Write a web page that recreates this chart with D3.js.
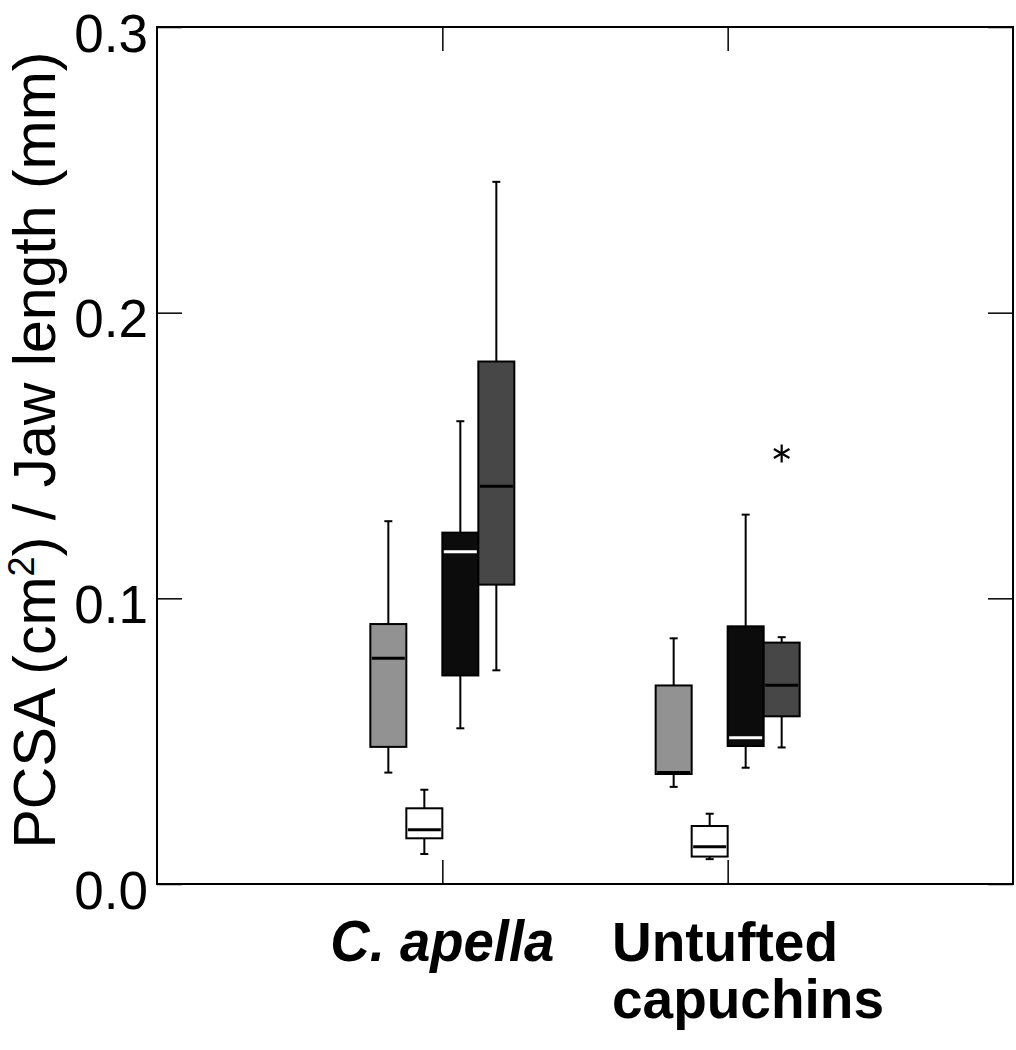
<!DOCTYPE html>
<html>
<head>
<meta charset="utf-8">
<script src="https://cdn.jsdelivr.net/npm/d3@7"></script>
<style>
  body { margin: 0; background: #fff; }
  svg { font-family: "Liberation Sans", Arial, sans-serif; }
</style>
</head>
<body>
<div id="chart"></div>
<script>
// groups on the x axis
var groups = ["C. apella", "Untufted capuchins"];
var series = ["grey", "white", "black", "dark"];
var fills = ["#929292", "#ffffff", "#0c0c0c", "#474747"];
var medianColors = ["#000", "#000", "#fff", "#000"];

// [whisker low, q1, median, q3, whisker high] per group
var greyStats  = [[0.039, 0.048, 0.079, 0.091, 0.127], [0.034, 0.0385, 0.039, 0.0695, 0.086]];
var whiteStats = [[0.0105, 0.016, 0.019, 0.0265, 0.033], [0.0087, 0.0096, 0.013, 0.0203, 0.0246]];
var blackStats = [[0.0545, 0.073, 0.1163, 0.123, 0.162], [0.0407, 0.0483, 0.0512, 0.0902, 0.1293]];
var darkStats  = [[0.0748, 0.1048, 0.1392, 0.1829, 0.2458], [0.0478, 0.0587, 0.0696, 0.0845, 0.0864]];
var allStats = [greyStats, whiteStats, blackStats, darkStats];

// outliers: [group index, series index, value]
var outliers = [[1, 3, 0.1507]];
var yTicks = [0, 0.1, 0.2, 0.3];

(function() {
var W = 1016, H = 1050;
var mLeft = 157, mRight = 1013, mTop = 27, mBottom = 884;

var svg = d3.select("#chart").append("svg").attr("width", W).attr("height", H);

var x = d3.scaleLinear().domain([0, 3]).range([mLeft, mRight]);
var xs = d3.scaleBand().domain(series).range([-72, 72]).padding(0);
var y = d3.scaleLinear().domain([0, 0.3]).range([mBottom, mTop]);
var bw = xs.bandwidth();

// frame
svg.append("rect")
  .attr("x", mLeft).attr("y", mTop)
  .attr("width", mRight - mLeft).attr("height", mBottom - mTop)
  .attr("fill", "none").attr("stroke", "#000").attr("stroke-width", 2);

// left axis, ticks pointing inward
var yAxis = svg.append("g")
  .attr("transform", "translate(" + mLeft + ",0)")
  .call(d3.axisLeft(y).tickValues(yTicks).tickSize(-25).tickPadding(9).tickFormat(d3.format(".1f")));
yAxis.select(".domain").remove();
yAxis.selectAll("line").attr("stroke-width", 1.5);
yAxis.selectAll("text")
  .attr("font-size", 53).attr("dy", 24)
  .attr("font-family", "Liberation Sans, Arial, sans-serif").attr("fill", "#000");

// right axis ticks
var yAxisR = svg.append("g")
  .attr("transform", "translate(" + mRight + ",0)")
  .call(d3.axisRight(y).tickValues(yTicks).tickSize(-25).tickFormat(""));
yAxisR.select(".domain").remove();
yAxisR.selectAll("line").attr("stroke-width", 1.5);

// top and bottom ticks at group positions
var xb = svg.append("g").attr("transform", "translate(0," + mBottom + ")")
  .call(d3.axisBottom(x).tickValues([1, 2]).tickSize(-24).tickFormat(""));
xb.select(".domain").remove();
xb.selectAll("line").attr("stroke-width", 1.5);
var xt = svg.append("g").attr("transform", "translate(0," + mTop + ")")
  .call(d3.axisTop(x).tickValues([1, 2]).tickSize(-24).tickFormat(""));
xt.select(".domain").remove();
xt.selectAll("line").attr("stroke-width", 1.5);

// boxes
var boxData = [];
groups.forEach(function(g, gi) {
  series.forEach(function(s, si) {
    var st = allStats[si][gi];
    boxData.push({ g: gi, s: si, lo: st[0], q1: st[1], med: st[2], q3: st[3], hi: st[4] });
  });
});

var boxes = svg.append("g").selectAll("g").data(boxData).join("g")
  .attr("transform", function(d) { return "translate(" + (x(d.g + 1) + xs(series[d.s])) + ",0)"; });

// whiskers
boxes.append("line")
  .attr("x1", bw / 2).attr("x2", bw / 2)
  .attr("y1", function(d) { return y(d.hi); }).attr("y2", function(d) { return y(d.q3); })
  .attr("stroke", "#000").attr("stroke-width", 2);
boxes.append("line")
  .attr("x1", bw / 2).attr("x2", bw / 2)
  .attr("y1", function(d) { return y(d.q1); }).attr("y2", function(d) { return y(d.lo); })
  .attr("stroke", "#000").attr("stroke-width", 2);
boxes.append("line")
  .attr("x1", bw / 2 - 4).attr("x2", bw / 2 + 4)
  .attr("y1", function(d) { return y(d.hi); }).attr("y2", function(d) { return y(d.hi); })
  .attr("stroke", "#000").attr("stroke-width", 2);
boxes.append("line")
  .attr("x1", bw / 2 - 4).attr("x2", bw / 2 + 4)
  .attr("y1", function(d) { return y(d.lo); }).attr("y2", function(d) { return y(d.lo); })
  .attr("stroke", "#000").attr("stroke-width", 2);

boxes.append("rect")
  .attr("x", 0).attr("width", bw)
  .attr("y", function(d) { return y(d.q3); })
  .attr("height", function(d) { return y(d.q1) - y(d.q3); })
  .attr("fill", function(d) { return fills[d.s]; })
  .attr("stroke", "#000").attr("stroke-width", 2);

boxes.append("line")
  .attr("x1", 1.5).attr("x2", bw - 1.5)
  .attr("y1", function(d) { return y(d.med); }).attr("y2", function(d) { return y(d.med); })
  .attr("stroke", function(d) { return medianColors[d.s]; }).attr("stroke-width", 3);

// outlier asterisks
var ast = svg.append("g").selectAll("g").data(outliers).join("g")
  .attr("transform", function(d) {
    return "translate(" + (x(d[0] + 1) + xs(series[d[1]]) + bw / 2) + "," + y(d[2]) + ")";
  });
[0, 60, 120].forEach(function(a) {
  var r = a * Math.PI / 180;
  ast.append("line")
    .attr("x1", -9 * Math.sin(r)).attr("y1", -9 * Math.cos(r))
    .attr("x2", 9 * Math.sin(r)).attr("y2", 9 * Math.cos(r))
    .attr("stroke", "#000").attr("stroke-width", 2.2);
});

// y label
svg.append("text")
  .attr("transform", "translate(55,450) rotate(-90)")
  .attr("text-anchor", "middle")
  .attr("font-size", 59)
  .attr("fill", "#000")
  .html('PCSA (cm<tspan font-size="36" dy="-21">2</tspan><tspan dy="21">) / Jaw length (mm)</tspan>');

// x labels
svg.append("text")
  .attr("x", x(1)).attr("y", 961)
  .attr("text-anchor", "middle")
  .attr("font-size", 58).attr("font-weight", "bold").attr("font-style", "italic")
  .attr("textLength", 224).attr("lengthAdjust", "spacingAndGlyphs")
  .text(groups[0]);

var lab2 = groups[1].split(" ");
svg.append("text")
  .attr("x", 612).attr("y", 961)
  .attr("font-size", 56).attr("font-weight", "bold")
  .attr("textLength", 226).attr("lengthAdjust", "spacingAndGlyphs")
  .text(lab2[0]);
svg.append("text")
  .attr("x", 612).attr("y", 1018)
  .attr("font-size", 56).attr("font-weight", "bold")
  .attr("textLength", 272).attr("lengthAdjust", "spacingAndGlyphs")
  .text(lab2[1]);
})();
</script>
</body>
</html>
